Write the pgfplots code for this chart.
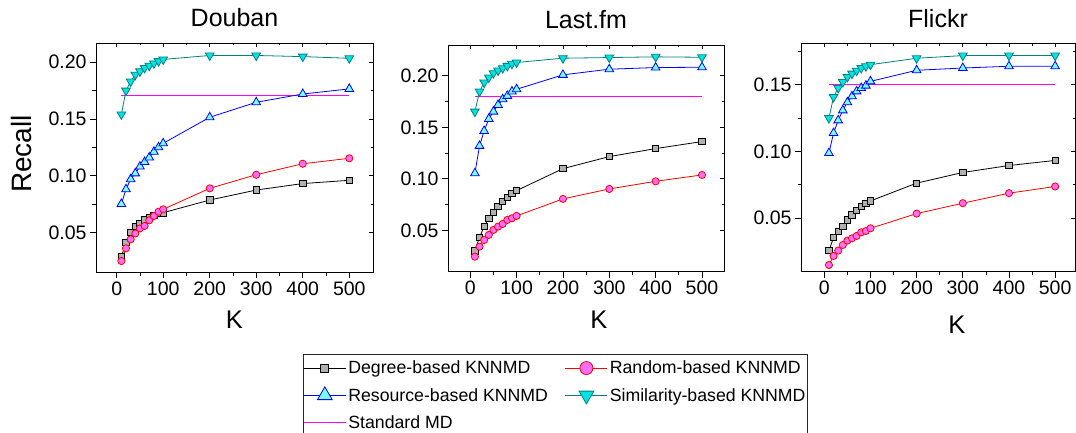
\documentclass[border=0pt]{standalone}
\usepackage{fontspec}
\setmainfont{Liberation Sans}
\usepackage{pgfplots}
\usepackage{pgfplotstable}
\pgfplotsset{compat=1.18}
\definecolor{degfill}{RGB}{176,176,176}
\definecolor{randfill}{RGB}{255,110,255}
\definecolor{resfill}{RGB}{120,255,255}
\definecolor{simfill}{RGB}{0,228,228}
\definecolor{simline}{RGB}{0,128,128}
\definecolor{stdline}{RGB}{255,0,255}

\pgfplotstableread{
K deg rand res sim
10 0.0285 0.0247 0.075 0.154
20 0.041 0.0359 0.088 0.175
30 0.050 0.0438 0.0968 0.183
40 0.055 0.049 0.102 0.189
50 0.058 0.0535 0.108 0.192
60 0.061 0.0556 0.112 0.195
70 0.0632 0.0606 0.116 0.197
80 0.065 0.0644 0.121 0.199
90 0.0667 0.0682 0.125 0.201
100 0.0673 0.0703 0.1285 0.2025
200 0.0785 0.0888 0.1515 0.206
300 0.0873 0.1008 0.1647 0.206
400 0.093 0.1105 0.172 0.205
500 0.0959 0.1153 0.1765 0.2035
}\douban
\pgfplotstableread{
K deg rand res sim
10 0.0302 0.0244 0.1054 0.1653
20 0.0432 0.0341 0.132 0.1848
30 0.0536 0.0406 0.1465 0.1935
40 0.0617 0.0455 0.1582 0.1984
50 0.0675 0.0504 0.1653 0.2026
60 0.073 0.0536 0.1718 0.2052
70 0.0779 0.0562 0.1773 0.2075
80 0.0818 0.0601 0.1806 0.2097
90 0.086 0.0617 0.1848 0.2117
100 0.0886 0.064 0.187 0.213
200 0.1099 0.0805 0.201 0.2172
300 0.1216 0.0902 0.2065 0.2178
400 0.1294 0.0976 0.2081 0.2185
500 0.1362 0.1038 0.2084 0.2181
}\lastfm
\pgfplotstableread{
K deg rand res sim
10 0.0258 0.015 0.0988 0.125
20 0.0355 0.0218 0.1138 0.1408
30 0.040 0.0258 0.1233 0.1475
40 0.0438 0.030 0.1308 0.152
50 0.0488 0.0333 0.1368 0.1558
60 0.0525 0.035 0.1413 0.1583
70 0.0558 0.0368 0.145 0.1605
80 0.0588 0.0395 0.1475 0.1625
90 0.0613 0.0405 0.1493 0.1638
100 0.063 0.0425 0.1525 0.165
200 0.0763 0.0535 0.1608 0.1698
300 0.0843 0.0613 0.1625 0.1718
400 0.0895 0.0688 0.1638 0.1718
500 0.0933 0.0738 0.1638 0.1718
}\flickr

\pgfplotsset{
  common/.style={
    scale only axis, anchor=south west,
    xtick={0,100,...,500}, ytick={0.05,0.10,0.15,0.20},
    minor x tick num=1, minor y tick num=1,
    axis line style={black, line width=0.9pt},
    every tick/.style={black, line width=0.8pt},
    scaled y ticks=false,
  },
  panel/.style={
    common,
    tick align=outside, xtick pos=left, ytick pos=left,
    major tick length=6pt, minor tick length=3.5pt,
    tick label style={font=\fontsize{19.5}{20}\selectfont},
    /pgf/number format/assume math mode=true,
    yticklabel style={/pgf/number format/.cd, fixed, fixed zerofill, precision=2},
    title style={font=\fontsize{25}{26}\selectfont, at={(0.5,1)}, anchor=base, yshift=10pt},
    xlabel style={font=\fontsize{25.5}{26}\selectfont, anchor=base},
    ylabel style={font=\fontsize{28}{28}\selectfont, anchor=base},
  },
  mirror/.style={
    common,
    tick align=inside, xtick pos=right, ytick pos=right,
    major tick length=4pt, minor tick length=2.5pt,
    xticklabels={}, yticklabels={},
  },
  deg/.style={black, line width=0.8pt, mark=square*, mark size=3.2pt, mark options={fill=degfill, draw=black, line width=0.8pt}},
  rand/.style={red, line width=0.8pt, mark=*, mark size=3.6pt, mark options={fill=randfill, draw=red, line width=0.8pt}},
  res/.style={blue, line width=0.8pt, mark=triangle*, mark size=5pt, mark options={fill=resfill, draw=blue, line width=0.8pt}},
  sim/.style={simline, line width=0.8pt, mark=triangle*, mark size=5pt, mark options={fill=simfill, draw=simline, line width=0.8pt, rotate=180}},
  std/.style={stdline, line width=1pt, no marks},
}

\begin{document}
\begin{tikzpicture}
\useasboundingbox (0,0) rectangle (1076pt,432pt);
% ---------- Douban
\begin{axis}[panel, at={(96pt,160pt)}, width=277pt, height=229pt,
  xmin=-44.5, xmax=551, ymin=0.015, ymax=0.217,
  title={Douban}, xlabel={K}, ylabel={Recall},
  xlabel style={at={(axis description cs:0.5,-0.246)}},
  ylabel style={at={(axis description cs:-0.232,0.515)}}]
\addplot[std] coordinates {(10,0.1705) (500,0.1705)};
\addplot[deg] table[x=K,y=deg] {\douban};
\addplot[rand] table[x=K,y=rand] {\douban};
\addplot[res] table[x=K,y=res] {\douban};
\addplot[sim] table[x=K,y=sim] {\douban};
\end{axis}
\begin{axis}[mirror, at={(96pt,160pt)}, width=277pt, height=229pt,
  xmin=-44.5, xmax=551, ymin=0.015, ymax=0.217]
\end{axis}
% ---------- Last.fm
\begin{axis}[panel, at={(448pt,160.3pt)}, width=276pt, height=226.7pt,
  xmin=-48, xmax=547.5, ymin=0.0098, ymax=0.230,
  title={Last.fm}, xlabel={K},
  xlabel style={at={(axis description cs:0.547,-0.249)}},
  legend style={at={(-0.5254,-0.361)}, anchor=north west, draw=black!85, line width=0.7pt,
    font=\fontsize{17.7}{18}\selectfont, inner xsep=0pt, inner ysep=5pt,
    /tikz/every even column/.append style={column sep=15pt},
    row sep=9pt},
  legend columns=2, legend cell align=left,
  legend image code/.code={\draw[mark repeat=2,mark phase=2,#1] plot coordinates {(0pt,0pt) (21pt,0pt) (42pt,0pt)};}]
\addplot[std, forget plot] coordinates {(10,0.180) (500,0.180)};
\addplot[deg, forget plot] table[x=K,y=deg] {\lastfm};
\addplot[rand, forget plot] table[x=K,y=rand] {\lastfm};
\addplot[res, forget plot] table[x=K,y=res] {\lastfm};
\addplot[sim, forget plot] table[x=K,y=sim] {\lastfm};
\addlegendimage{deg, mark size=4pt}
\addlegendentry{Degree-based KNNMD}
\addlegendimage{rand, mark size=6.5pt}
\addlegendentry{Random-based KNNMD}
\addlegendimage{res, mark size=8.5pt}
\addlegendentry{Resource-based KNNMD}
\addlegendimage{sim, mark size=8.5pt}
\addlegendentry{Similarity-based KNNMD}
\addlegendimage{std}
\addlegendentry{Standard MD}
\end{axis}
\begin{axis}[mirror, at={(448pt,160.3pt)}, width=276pt, height=226.7pt,
  xmin=-48, xmax=547.5, ymin=0.0098, ymax=0.230]
\end{axis}
% ---------- Flickr
\begin{axis}[panel, at={(801pt,160.3pt)}, width=274pt, height=228.4pt,
  xmin=-50.5, xmax=543, ymin=0.010, ymax=0.181,
  title={Flickr}, xlabel={K},
  xlabel style={at={(axis description cs:0.569,-0.27)}}]
\addplot[std] coordinates {(10,0.150) (500,0.150)};
\addplot[deg] table[x=K,y=deg] {\flickr};
\addplot[rand] table[x=K,y=rand] {\flickr};
\addplot[res] table[x=K,y=res] {\flickr};
\addplot[sim] table[x=K,y=sim] {\flickr};
\end{axis}
\begin{axis}[mirror, at={(801pt,160.3pt)}, width=274pt, height=228.4pt,
  xmin=-50.5, xmax=543, ymin=0.010, ymax=0.181]
\end{axis}
\end{tikzpicture}
\end{document}
